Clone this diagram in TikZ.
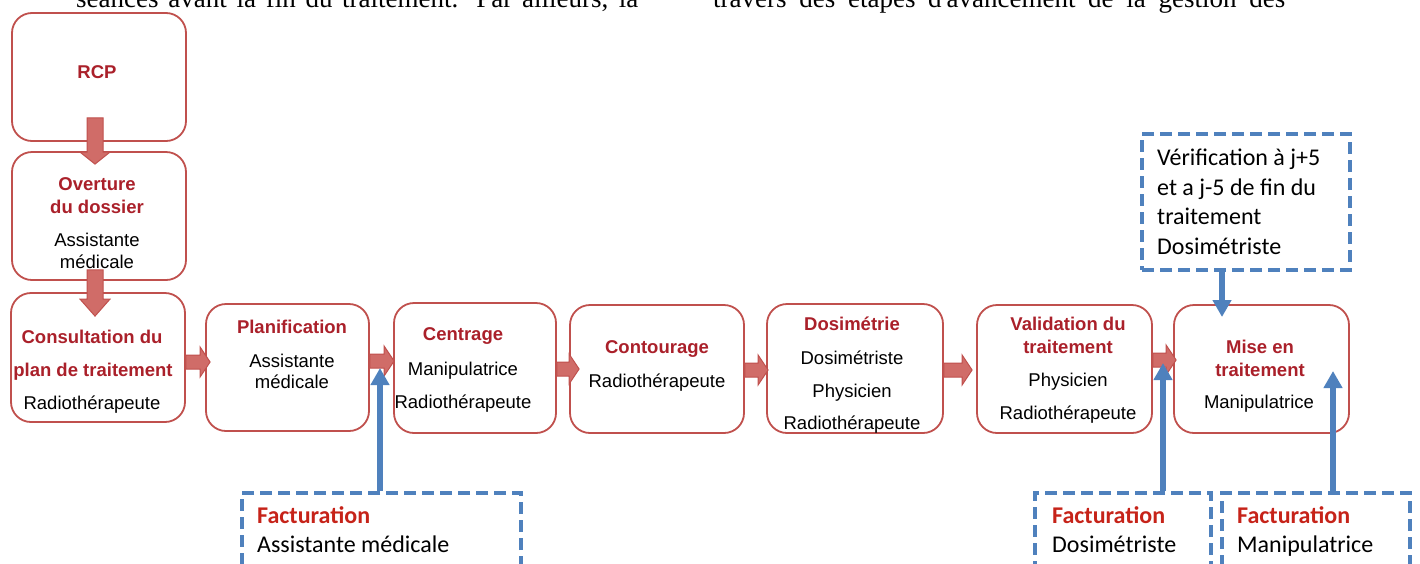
\documentclass[tikz,border=0pt]{standalone}
\usepackage{fontspec}
\setmainfont{Liberation Sans}
\newfontfamily\serifrm{Liberation Serif}
\newfontfamily\calib{Carlito}
\usetikzlibrary{arrows.meta,calc}
\definecolor{boxred}{RGB}{192,80,77}
\definecolor{arrfill}{RGB}{208,108,104}
\definecolor{titred}{RGB}{170,32,42}
\definecolor{factred}{RGB}{198,35,25}
\definecolor{blu}{RGB}{79,129,189}
\tikzset{
  stepbox/.style={draw=boxred, line width=1.8pt, rounded corners=20pt, fill=white, inner sep=0pt},
  dbox/.style={draw=blu, line width=3.5pt, dash pattern=on 12pt off 6pt, inner sep=0pt},
  ttl/.style={font=\fontsize{18.5}{22}\selectfont\bfseries, text=titred, inner sep=0pt, anchor=base},
  role/.style={font=\fontsize{18.5}{22}\selectfont, text=black, inner sep=0pt, anchor=base},
  ctext/.style={font=\calib\fontsize{24}{29}\selectfont, text=black, inner sep=0pt, anchor=base west},
  fact/.style={font=\calib\bfseries\fontsize{24}{29}\selectfont, text=factred, inner sep=0pt, anchor=base west},
  toptext/.style={font=\serifrm\fontsize{27}{32}\selectfont, text=black, inner sep=0pt, anchor=base west},
  barrow/.style={draw=blu, line width=6pt, -{Triangle[width=18pt,length=17pt]}},
  fatarr/.style={fill=arrfill, draw=boxred, line width=1pt, line join=miter}
}
\newcommand\tline[5]{\node[#4] (#1) at (#2,#3) {#5};}
\newcommand\hfat[4]{%
  \coordinate (hs) at (#1.east |- #3);
  \coordinate (ht) at ($(#2.west |- #3)+(#4,0)$);
  \filldraw[fatarr] ($(hs)+(0,-7)$) -- ($(ht)+(-10,-7)$) -- ($(ht)+(-10,-15)$) -- (ht)
    -- ($(ht)+(-10,15)$) -- ($(ht)+(-10,7)$) -- ($(hs)+(0,7)$) -- cycle;}
\newcommand\vfat[6]{%
  \coordinate (vs) at ($(#1.south -| #3)+(0,-#4)$);
  \coordinate (vt) at ($(#2.north -| #3)+(0,#5)$);
  \filldraw[fatarr] ($(vs)+(-8,0)$) -- ($(vt)+(-8,-#6)$) -- ($(vt)+(-15,-#6)$) -- (vt)
    -- ($(vt)+(15,-#6)$) -- ($(vt)+(8,-#6)$) -- ($(vs)+(8,0)$) -- cycle;}
\begin{document}
\begin{tikzpicture}[x=1pt,y=-1pt]
\useasboundingbox (0,0) rectangle (1420,563);
\begin{scope}
\clip (0,0) rectangle (1420,563);
% cut-off running text at the top
\node[toptext] (top1) at (76,7) {\makebox[562pt][s]{séances avant la fin du traitement. Par ailleurs, la}};
\node[toptext] (top2) at (713,7) {\makebox[572pt][s]{travers des étapes d'avancement de la gestion des}};
% step boxes
\node[stepbox, minimum width=174, minimum height=128] (rcp) at (99,77) {};
\node[stepbox, minimum width=174, minimum height=128] (ov) at (99,216) {};
\node[stepbox, minimum width=174, minimum height=129] (cons) at (98,357.5) {};
\node[stepbox, minimum width=163, minimum height=127] (plan) at (287.5,367.5) {};
\node[stepbox, minimum width=162, minimum height=130] (cent) at (475,368) {};
\node[stepbox, minimum width=174, minimum height=128] (cont) at (657,369) {};
\node[stepbox, minimum width=176, minimum height=129] (dosi) at (855,368.5) {};
\node[stepbox, minimum width=175, minimum height=128] (valid) at (1064.5,369) {};
\node[stepbox, minimum width=175, minimum height=128] (mise) at (1261.5,369) {};
% dashed boxes
\node[dbox, minimum width=208, minimum height=136] (verif) at (1246,202) {};
\node[dbox, minimum width=279, minimum height=120] (fact1) at (381.5,553) {};
\node[dbox, minimum width=176, minimum height=120] (fact2) at (1123,553) {};
\node[dbox, minimum width=188, minimum height=120] (fact3) at (1316,553) {};
% fat red arrows
\coordinate (xv) at (95,0);
\vfat{rcp}{ov}{xv}{24}{13}{12}
\vfat{ov}{cons}{xv}{11}{24}{17}
\coordinate (y1) at (0,362);
\coordinate (y2) at (0,361);
\coordinate (y3) at (0,369);
\coordinate (y4) at (0,370);
\coordinate (y5) at (0,370);
\coordinate (y6) at (0,360);
\hfat{cons}{plan}{y1}{5}
\hfat{plan}{cent}{y2}{1}
\hfat{cent}{cont}{y3}{10}
\hfat{cont}{dosi}{y4}{2}
\hfat{dosi}{valid}{y5}{-4}
\hfat{valid}{mise}{y6}{3}
% texts in step boxes
\tline{rcpA}{97}{78.5}{ttl}{RCP}
\tline{ovA}{97}{190.5}{ttl}{Overture}
\tline{ovB}{97}{213}{ttl}{du dossier}
\tline{ovC}{97}{246}{role}{Assistante}
\tline{ovD}{97}{268}{role}{médicale}
\tline{consA}{92}{343}{ttl}{Consultation du}
\tline{consB}{93}{376}{ttl}{plan de traitement}
\tline{consC}{92}{409}{role}{Radiothérapeute}
\tline{planA}{292}{333}{ttl}{Planification}
\tline{planB}{292}{367}{role}{Assistante}
\tline{planC}{292}{388.5}{role}{médicale}
\tline{centA}{463}{340.5}{ttl}{Centrage}
\tline{centB}{463}{375}{role}{Manipulatrice}
\tline{centC}{463}{408.5}{role}{Radiothérapeute}
\tline{contA}{657}{353}{ttl}{Contourage}
\tline{contB}{657}{387}{role}{Radiothérapeute}
\tline{dosiA}{852}{330}{ttl}{Dosimétrie}
\tline{dosiB}{852}{364}{role}{Dosimétriste}
\tline{dosiC}{852}{397.5}{role}{Physicien}
\tline{dosiD}{852}{429.5}{role}{Radiothérapeute}
\tline{valA}{1068}{330}{ttl}{Validation du}
\tline{valB}{1068}{353}{ttl}{traitement}
\tline{valC}{1068}{386}{role}{Physicien}
\tline{valD}{1068}{419.5}{role}{Radiothérapeute}
\tline{miseA}{1260}{353}{ttl}{Mise en}
\tline{miseB}{1260}{376}{ttl}{traitement}
\tline{miseC}{1259}{408.5}{role}{Manipulatrice}
% texts in dashed boxes
\tline{vA}{1157}{165}{ctext}{Vérification à j+5}
\tline{vB}{1157}{195}{ctext}{et a j-5 de fin du}
\tline{vC}{1157}{224.5}{ctext}{traitement}
\tline{vD}{1157}{254}{ctext}{Dosimétriste}
\tline{f1A}{257}{523}{fact}{Facturation}
\tline{f1B}{257}{552}{ctext}{Assistante médicale}
\tline{f2A}{1052}{523}{fact}{Facturation}
\tline{f2B}{1052}{552}{ctext}{Dosimétriste}
\tline{f3A}{1237}{523}{fact}{Facturation}
\tline{f3B}{1237}{552}{ctext}{Manipulatrice}
% blue arrows
\coordinate (b1) at (380,368);
\coordinate (b2) at (1163,363);
\coordinate (b3) at (1333,371);
\coordinate (b4) at (1222,317);
\draw[barrow] (fact1.north -| b1) -- (b1);
\draw[barrow] (fact2.north -| b2) -- (b2);
\draw[barrow] (fact3.north -| b3) -- (b3);
\draw[barrow] (verif.south -| b4) -- (b4);
\end{scope}
\end{tikzpicture}
\end{document}
